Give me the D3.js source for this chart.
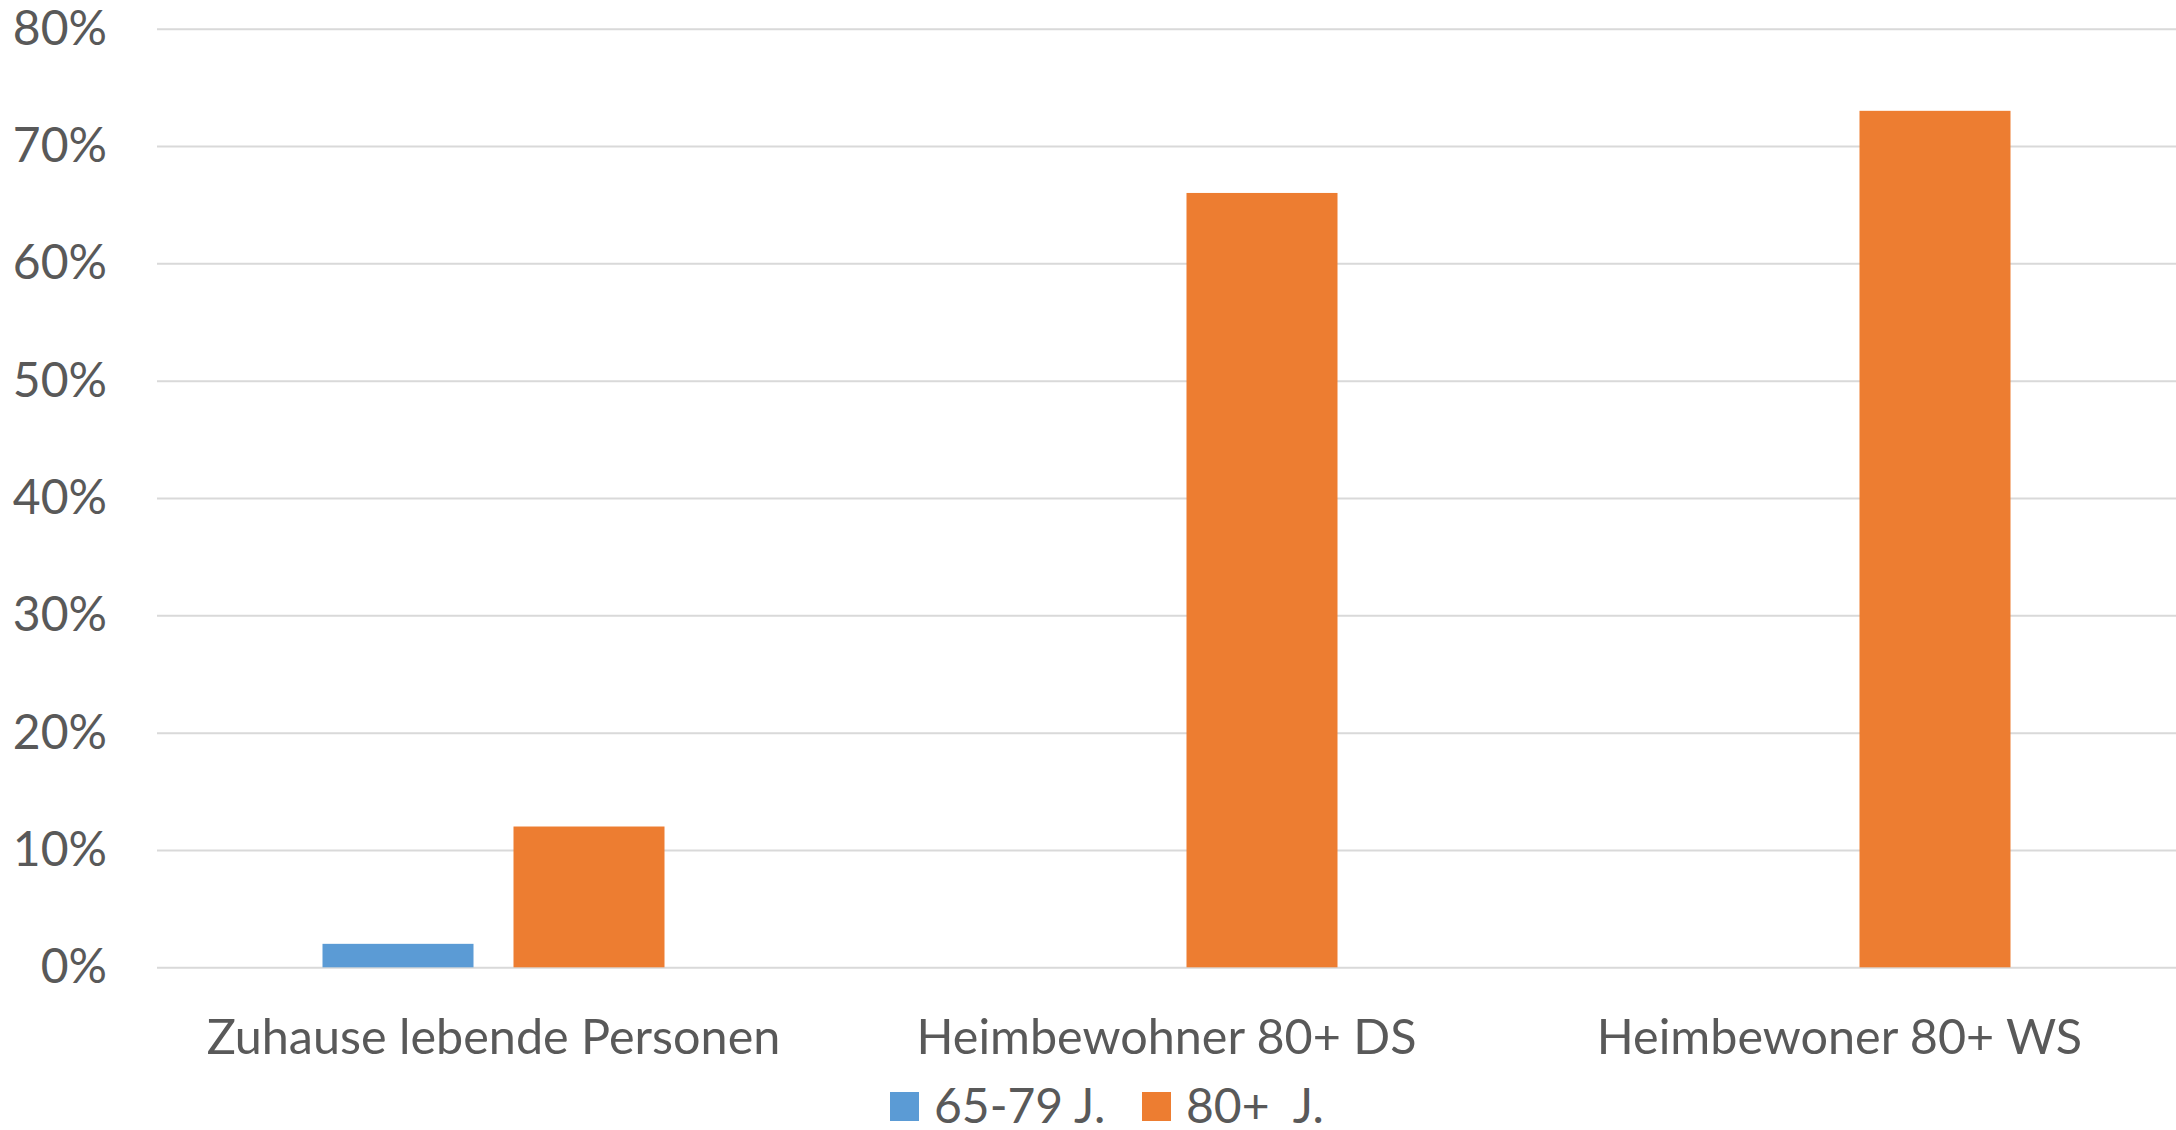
<!DOCTYPE html>
<meta charset="utf-8">
<style>
body { margin: 0; background: #fff; }
text {
  font-family: Lato, "Open Sans", sans-serif;
  fill: #595959;
}
.grid line { stroke: #d9d9d9; stroke-width: 2px; }
</style>
<svg width="2176" height="1130"></svg>
<script src="https://d3js.org/d3.v7.min.js"></script>
<script>

var categories = ["Zuhause lebende Personen", "Heimbewohner 80+ DS", "Heimbewoner 80+ WS"]
var series = ["65-79 J.", "80+  J."]
var young = [0.02, null, null]
var old = [0.12, 0.66, 0.73]
var yTicks = [0, 0.1, 0.2, 0.3, 0.4, 0.5, 0.6, 0.7, 0.8]
var colors = ["#5b9bd5", "#ed7d31"]

var svg = d3.select("svg")

var plotLeft = 157, plotRight = 2176, plotTop = 28.7, plotBottom = 967.3

var y = d3.scaleLinear().domain([0, 0.8]).range([plotBottom, plotTop])
var x0 = d3.scaleBand().domain(categories).range([plotLeft, plotRight]).padding(0)
var x1 = d3.scaleBand().domain(series).range([0, x0.bandwidth()])
  .paddingInner(0.2094).paddingOuter(0.8665)

// grid + y labels
var yAxis = d3.axisLeft(y).tickValues(yTicks)
  .tickSize(-(plotRight - plotLeft)).tickPadding(50)
  .tickFormat(d3.format(".0%"))

var g = svg.append("g").attr("class", "grid")
  .attr("transform", "translate(" + plotLeft + ",0)")
  .call(yAxis)
g.select(".domain").remove()
g.selectAll("text").style("font-size", "48px").attr("fill", "#595959")

// bars
var rows = categories.map(function(c, i) {
  return { cat: c, vals: [young[i], old[i]] }
})

var groups = svg.selectAll(".group").data(rows).enter().append("g")
  .attr("transform", function(d) { return "translate(" + x0(d.cat) + ",0)" })

groups.selectAll("rect")
  .data(function(d) {
    return d.vals.map(function(v, j) { return { s: series[j], v: v, j: j } })
      .filter(function(e) { return e.v != null })
  })
  .enter().append("rect")
  .attr("x", function(d) { return x1(d.s) })
  .attr("width", x1.bandwidth())
  .attr("y", function(d) { return y(d.v) })
  .attr("height", function(d) { return y(0) - y(d.v) })
  .attr("fill", function(d) { return colors[d.j] })

// category labels
var xAxis = d3.axisBottom(x0).tickSize(0).tickPadding(0)
var gx = svg.append("g").attr("transform", "translate(0," + plotBottom + ")").call(xAxis)
gx.select(".domain").remove()
gx.selectAll("text").style("font-size", "48.5px").attr("fill", "#595959")
  .attr("y", 70).attr("dy", "0.35em")

// legend
var legend = svg.append("g").attr("transform", "translate(890,1092)")
var items = legend.selectAll("g").data(series).enter().append("g")
  .attr("transform", function(d, i) { return "translate(" + (i * 252) + ",0)" })
items.append("rect").attr("width", 29).attr("height", 29)
  .attr("fill", function(d, i) { return colors[i] })
items.append("text").attr("x", 44).attr("y", 14.5).attr("dy", "0.35em")
  .style("font-size", "48px").style("white-space", "pre")
  .text(function(d) { return d })

</script>
